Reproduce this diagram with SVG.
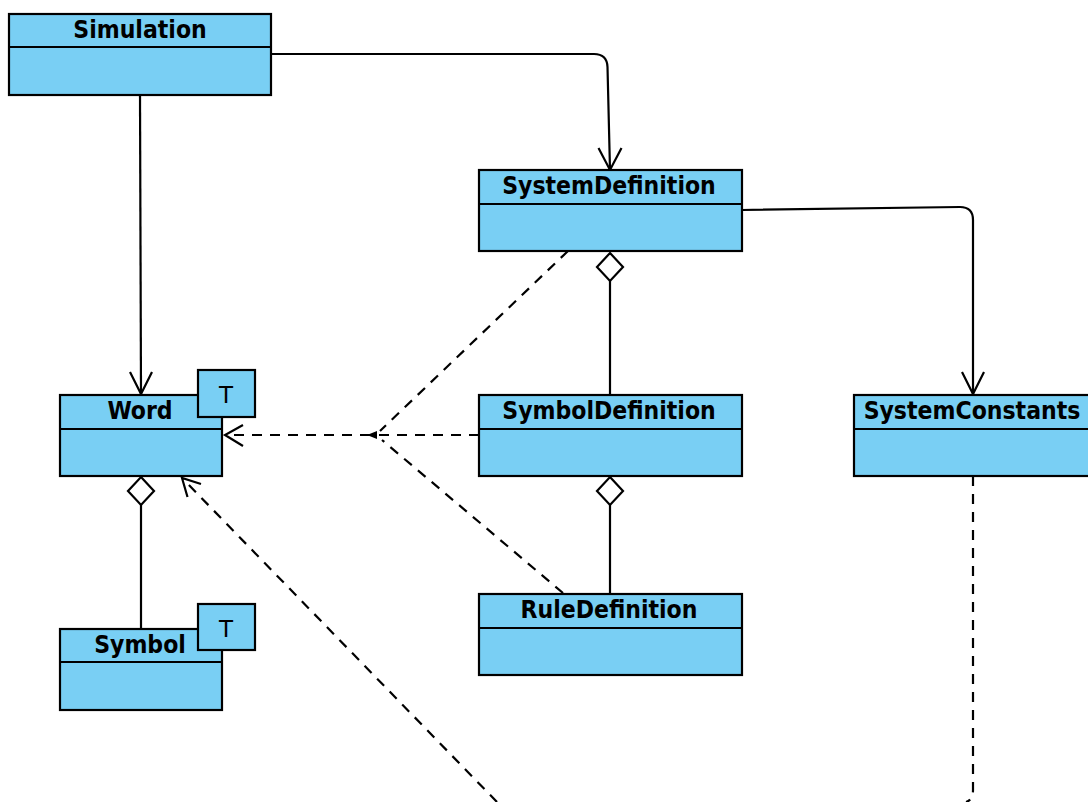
<svg xmlns="http://www.w3.org/2000/svg" width="1088" height="802" viewBox="0 0 1088 802">
<style>
.box{fill:#79CFF4;stroke:#000;stroke-width:2.2}
.sep{stroke:#000;stroke-width:2.2}
.name{font-family:"DejaVu Sans Condensed","DejaVu Sans",sans-serif;font-weight:bold;font-size:24.5px;text-anchor:middle;fill:#000}
.tp{font-family:"DejaVu Sans",sans-serif;font-size:23px;text-anchor:middle;fill:#000}
.ln{fill:none;stroke:#000;stroke-width:2.2}
.dash{fill:none;stroke:#000;stroke-width:2.2;stroke-dasharray:10 8}
.dia{fill:#fff;stroke:#000;stroke-width:2.2}
</style>
<rect width="1088" height="802" fill="#fff"/>
<g id="connectors">
<path class="ln" d="M271,54 H594 Q607,54 607.5,67 L610,170"/>
<path class="ln" d="M598.5,148 L610,170 L621.5,148"/>
<path class="ln" d="M140,95 L141,395"/>
<path class="ln" d="M130,372 L141,394 L152,372"/>
<path class="ln" d="M742,210 L960,207 Q973,207 973,220 L973,395"/>
<path class="ln" d="M962,372 L973,394 L984,372"/>
<path class="ln" d="M610,281 V395"/>
<path class="dia" d="M610,253 L623,267 L610,281 L597,267 Z"/>
<path class="ln" d="M610,505 V594"/>
<path class="dia" d="M610,477 L623,491 L610,505 L597,491 Z"/>
<path class="ln" d="M141,505 V629"/>
<path class="dia" d="M141,477 L154,491 L141,505 L128,491 Z"/>
<path class="dash" d="M370,435 H226"/>
<path class="ln" d="M243,425 L225,435 L243,446"/>
<path class="dash" d="M479,435 H378"/>
<path class="dash" d="M568,251 L380,431"/>
<path class="dash" d="M563,593 L382,440"/>
<path d="M367,435 L377,431 L377,439 Z" fill="#000"/>
<path class="dash" d="M497,802 L184,480"/>
<path class="ln" d="M187.5,497 L182,478 L201,484"/>
<path class="dash" d="M973,476 V790 Q973,800 966,802"/>
</g>
<g id="Simulation">
<rect class="box" x="9" y="14" width="262" height="81"/>
<line class="sep" x1="9" y1="47" x2="271" y2="47"/>
<text class="name" x="140" y="38">Simulation</text>
</g>
<g id="SystemDefinition">
<rect class="box" x="479" y="170" width="263" height="81"/>
<line class="sep" x1="479" y1="204" x2="742" y2="204"/>
<text class="name" x="609" y="194">SystemDefinition</text>
</g>
<g id="Word">
<rect class="box" x="60" y="395" width="162" height="81"/>
<line class="sep" x1="60" y1="429" x2="222" y2="429"/>
<text class="name" x="140" y="419">Word</text>
<rect class="box" x="198" y="370" width="57" height="47"/>
<text class="tp" x="226" y="403">T</text>
</g>
<g id="Symbol">
<rect class="box" x="60" y="629" width="162" height="81"/>
<line class="sep" x1="60" y1="662" x2="222" y2="662"/>
<text class="name" x="140" y="653">Symbol</text>
<rect class="box" x="198" y="604" width="57" height="46"/>
<text class="tp" x="226" y="637">T</text>
</g>
<g id="SymbolDefinition">
<rect class="box" x="479" y="395" width="263" height="81"/>
<line class="sep" x1="479" y1="429" x2="742" y2="429"/>
<text class="name" x="609" y="419">SymbolDefinition</text>
</g>
<g id="SystemConstants">
<rect class="box" x="854" y="395" width="238" height="81"/>
<line class="sep" x1="854" y1="429" x2="1092" y2="429"/>
<text class="name" x="972" y="419">SystemConstants</text>
</g>
<g id="RuleDefinition">
<rect class="box" x="479" y="594" width="263" height="81"/>
<line class="sep" x1="479" y1="628" x2="742" y2="628"/>
<text class="name" x="609" y="618">RuleDefinition</text>
</g>
</svg>
